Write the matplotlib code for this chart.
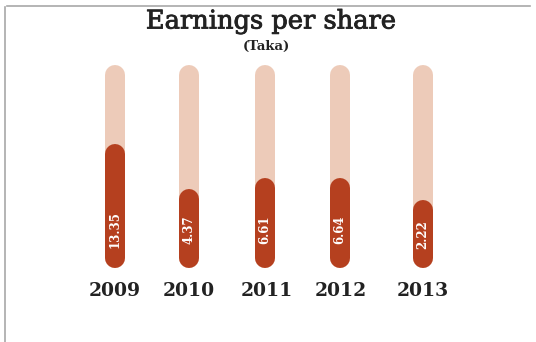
import matplotlib
matplotlib.use("Agg")
import matplotlib.pyplot as plt
from matplotlib.lines import Line2D
import matplotlib.patheffects as pe

# Earnings per share, Taka
years = ["2009", "2010", "2011", "2012", "2013"]
eps = [13.35, 4.37, 6.61, 6.64, 2.22]

# layout
W, H, DPI = 536, 342, 100
x_pos = [115, 189, 265, 340, 423]        # bar centres, pixels
bar_px = 20                              # bar width, pixels
y_base, y_top = -11.1, 28.8              # value scale of the bar area
track_color = "#EDCBB9"
bar_color = "#B5401F"
text_color = "#222222"

fig = plt.figure(figsize=(W / DPI, H / DPI), dpi=DPI)
fig.patch.set_facecolor("white")

# bar area: from pixel row 268 (bottom) up to row 65 (top)
ax = fig.add_axes([0, (H - 268) / H, 1, (268 - 65) / H])
ax.set_xlim(0, W)
ax.set_ylim(y_base, y_top)
ax.axis("off")

px_per_unit = (268 - 65) / (y_top - y_base)
r = (bar_px / 2) / px_per_unit            # cap radius in value units
lw = bar_px * 72 / DPI

tracks = ax.vlines(x_pos, y_base + r, y_top - r, colors=track_color, linewidth=lw)
tracks.set_capstyle("round")
bars = ax.vlines(x_pos, y_base + r, [v - r for v in eps], colors=bar_color, linewidth=lw)
bars.set_capstyle("round")

label_y = y_base + 38 / px_per_unit
for x, v in zip(x_pos, eps):
    y = min((y_base + v) / 2, label_y)
    ax.text(x, y, f"{v:.2f}", rotation=90, ha="center", va="center",
            color="white", fontsize=8.5, fontweight="bold", family="DejaVu Serif")

# overlay axes in pixel coordinates for titles, year labels and frame
ov = fig.add_axes([0, 0, 1, 1])
ov.set_xlim(0, W)
ov.set_ylim(H, 0)
ov.axis("off")
ov.patch.set_alpha(0)

heavier = [pe.withStroke(linewidth=0.6, foreground=text_color)]
ov.text(271, 21, "Earnings per share", ha="center", va="center",
        fontsize=18.5, family="DejaVu Serif", color=text_color,
        path_effects=heavier)
ov.text(266, 46, "(Taka)", ha="center", va="center",
        fontsize=9.5, fontweight="bold", family="DejaVu Serif", color=text_color)

year_x = [115, 189, 267, 341, 423]
for x, yr in zip(year_x, years):
    ov.text(x, 291, yr, ha="center", va="center", fontsize=13.5,
            fontweight="bold", family="DejaVu Serif", color=text_color)

ov.add_line(Line2D([7, 530], [6, 6], color="#a8a8a8", linewidth=1.2))
ov.add_line(Line2D([5, 5], [7, 342], color="#a8a8a8", linewidth=1.2))

fig.savefig("out.png", dpi=DPI, facecolor="white")
